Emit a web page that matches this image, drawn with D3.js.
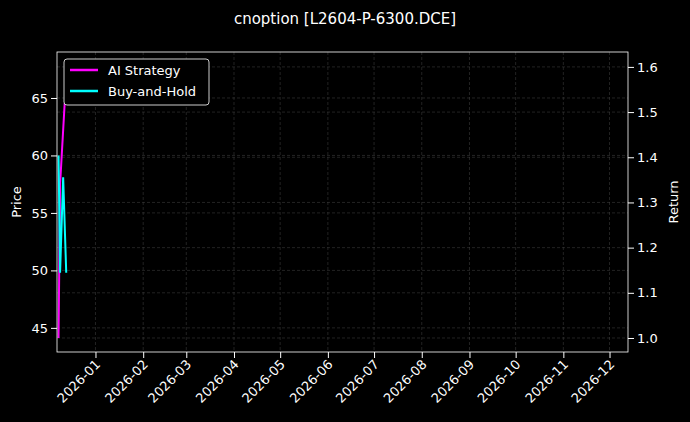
<!DOCTYPE html>
<html><head><meta charset="utf-8">
<script src="https://cdn.jsdelivr.net/npm/d3@7"></script>
<style>body{margin:0;background:#000}text{font-family:"DejaVu Sans",sans-serif}</style>
</head><body>
<svg id="c" width="690" height="422"></svg>
<script>
// data
var priceDates = ["2025-12-08", "2025-12-09", "2025-12-11", "2025-12-13"];
var priceValues = [60, 49.8, 58.1, 49.8];
var stratDates = ["2025-12-08", "2025-12-09", "2025-12-12"];
var stratValues = [1.0, 1.34, 1.52];
var tickLabels = ["2026-01","2026-02","2026-03","2026-04","2026-05","2026-06","2026-07","2026-08","2026-09","2026-10","2026-11","2026-12"];

var parse = d3.timeParse("%Y-%m-%d");
var svg = d3.select("#c");
var L = 57, R = 628, T = 52, B = 352;
svg.append("rect").attr("width", 690).attr("height", 422).attr("fill", "#000");

var x = d3.scaleTime().domain([parse("2025-12-07"), parse("2026-12-13")]).range([L, R]);
var yL = d3.scaleLinear().domain([42.9, 69]).range([B, T]);
var yR = d3.scaleLinear().domain([0.969, 1.633]).range([B, T]);
var ticks = tickLabels.map(function(t) { return parse(t + "-01"); });

// grid
var g = svg.append("g").attr("stroke", "#444").attr("stroke-dasharray", "3,2").attr("stroke-width", 0.5);
ticks.forEach(function(t) { g.append("line").attr("x1", x(t)).attr("x2", x(t)).attr("y1", T).attr("y2", B); });
[45, 50, 55, 60, 65].forEach(function(v) { g.append("line").attr("x1", L).attr("x2", R).attr("y1", yL(v)).attr("y2", yL(v)); });
[1.0, 1.1, 1.2, 1.3, 1.4, 1.5, 1.6].forEach(function(v) { g.append("line").attr("x1", L).attr("x2", R).attr("y1", yR(v)).attr("y2", yR(v)); });

var line1 = d3.line().x(function(d, i) { return x(parse(stratDates[i])); }).y(function(d) { return yR(d); });
var line2 = d3.line().x(function(d, i) { return x(parse(priceDates[i])); }).y(function(d) { return yL(d); });
svg.append("path").attr("d", line1(stratValues)).attr("fill", "none").attr("stroke", "#ff00ff").attr("stroke-width", 2);
svg.append("path").attr("d", line2(priceValues)).attr("fill", "none").attr("stroke", "#00ffff").attr("stroke-width", 2);

// frame
svg.append("rect").attr("x", L).attr("y", T).attr("width", R - L).attr("height", B - T).attr("fill", "none").attr("stroke", "#fff").attr("stroke-width", 0.8);

var ax = svg.append("g").attr("transform", "translate(0," + B + ")")
  .call(d3.axisBottom(x).tickValues(ticks).tickFormat(d3.timeFormat("%Y-%m")).tickSizeOuter(0));
ax.selectAll("text").attr("x", 0).attr("y", 0).attr("dy", "0.35em")
  .attr("transform", "translate(2,10) rotate(-45)").attr("text-anchor", "end");
var al = svg.append("g").attr("transform", "translate(" + L + ",0)").call(d3.axisLeft(yL).tickValues([45, 50, 55, 60, 65]).tickSizeOuter(0));
var ar = svg.append("g").attr("transform", "translate(" + R + ",0)").call(d3.axisRight(yR).tickValues([1.0, 1.1, 1.2, 1.3, 1.4, 1.5, 1.6]).tickFormat(d3.format(".1f")).tickSizeOuter(0));
[ax, al, ar].forEach(function(a) {
  a.select(".domain").remove();
  a.selectAll("line").attr("stroke", "#fff");
  a.selectAll("text").attr("fill", "#fff").attr("font-size", 13);
});

svg.append("text").attr("x", 345).attr("y", 24).attr("text-anchor", "middle").attr("fill", "#fff").attr("font-size", 15).text("cnoption [L2604-P-6300.DCE]");
svg.append("text").attr("transform", "translate(21,202) rotate(-90)").attr("text-anchor", "middle").attr("fill", "#fff").attr("font-size", 13).text("Price");
svg.append("text").attr("transform", "translate(678,202) rotate(-90)").attr("text-anchor", "middle").attr("fill", "#fff").attr("font-size", 13).text("Return");

// legend
var lg = svg.append("g").attr("transform", "translate(64,59)");
lg.append("rect").attr("width", 145).attr("height", 46).attr("rx", 3).attr("fill", "#000").attr("stroke", "#ccc");
[["AI Strategy", "#ff00ff"], ["Buy-and-Hold", "#00ffff"]].forEach(function(d, i) {
  lg.append("line").attr("x1", 6).attr("x2", 34).attr("y1", 11 + i * 21).attr("y2", 11 + i * 21).attr("stroke", d[1]).attr("stroke-width", 2.5);
  lg.append("text").attr("x", 44).attr("y", 16 + i * 21).attr("fill", "#fff").attr("font-size", 13).text(d[0]);
});
</script>
</body></html>
